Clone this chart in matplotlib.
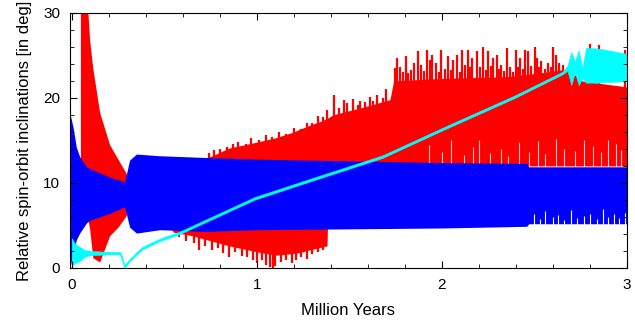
import numpy as np
import matplotlib
matplotlib.use("Agg")
import matplotlib.pyplot as plt
from matplotlib.ticker import MultipleLocator

plt.rcParams['font.family'] = ['Liberation Sans', 'DejaVu Sans']

# red band (envelopes, deg vs Myr)
red_x = [0.047, 0.085, 0.097, 0.114, 0.151, 0.205, 0.25, 0.29, 0.30, 0.50, 0.55, 0.65, 0.75,
         0.85, 1.0, 1.1, 1.2, 1.23, 1.30, 1.34, 1.38, 1.39, 1.41, 1.59, 1.72, 1.74, 2.0,
         2.35, 2.55, 2.68, 2.76, 3.0]
red_up = [31, 31, 26.8, 23.5, 18.3, 14.5, 12.8, 11.3, 10.8, 12.0, 12.2, 12.6, 13.1,
          14.1, 14.8, 15.3, 16.0, 16.3, 16.9, 17.2, 17.6, 17.7, 18.0, 19.0, 19.8, 22.0, 22.3,
          22.5, 23.0, 23.4, 22.0, 21.3]
red_lo = [8.0, 6.0, 4.6, 1.2, 0.7, 3.8, 4.8, 6.0, 6.5, 6.0, 4.2, 3.8, 3.2,
          2.6, 1.9, 1.5, 1.7, 1.8, 2.2, 2.4, 2.6, 12.0, 12.0, 12.0, 12.0, 12.0, 12.0,
          12.0, 12.0, 12.0, 12.0, 12.0]

# red spikes along the top
red_spk_x = [0.74, 0.77, 0.80, 0.84, 0.87, 0.90, 0.94, 0.97, 1.01, 1.05, 1.08, 1.12, 1.16,
             1.20, 1.24, 1.27, 1.30, 1.33, 1.36, 1.38, 1.42, 1.445, 1.47, 1.49, 1.52, 1.545,
             1.56, 1.585, 1.61, 1.63, 1.65, 1.68, 1.70,
             1.746, 1.759, 1.773, 1.79, 1.805, 1.82, 1.836, 1.85, 1.872, 1.89, 1.905, 1.923,
             1.935, 1.95, 1.971, 1.985, 1.998, 2.015, 2.034, 2.048, 2.061, 2.083, 2.098,
             2.112, 2.124, 2.142, 2.155, 2.166, 2.188, 2.205, 2.223, 2.237, 2.25, 2.265,
             2.277, 2.299, 2.31, 2.322, 2.338, 2.353, 2.37, 2.385, 2.40, 2.412, 2.425, 2.437,
             2.449, 2.467, 2.485, 2.503, 2.515, 2.527, 2.539, 2.557, 2.575, 2.59, 2.602,
             2.616, 2.634, 2.656, 2.80, 2.85, 2.99]
red_spk_top = [13.5, 13.9, 14.0, 14.2, 14.6, 14.8, 14.6, 15.3, 15.0, 15.6, 15.4, 16.0, 15.8,
               16.5, 16.4, 17.0, 17.1, 17.9, 17.8, 18.6, 20.4, 18.8, 19.8, 19.4, 19.9, 19.2,
               19.6, 19.5, 20.1, 19.7, 20.4, 20.0, 21.0,
               23.5, 24.7, 23.7, 23.0, 24.9, 22.9, 23.3, 24.1, 25.5, 23.9, 23.2, 25.7,
               24.5, 25.1, 24.1, 23.1, 25.7, 23.4, 24.9, 23.3, 24.5, 25.1, 23.0,
               25.6, 23.9, 25.7, 23.6, 24.7, 25.5, 23.7, 26.0, 23.3, 25.5, 23.8,
               24.7, 25.1, 23.4, 23.9, 23.2, 25.9, 23.7, 23.1, 25.6, 23.6, 24.7, 23.4,
               25.6, 25.5, 23.8, 26.0, 24.7, 23.6, 24.3, 23.4, 24.1, 23.6, 26.0,
               25.1, 24.1, 23.9, 26.3, 26.2, 25.6]

# red spikes reaching down below the blue band
red_dn_x = [0.58, 0.62, 0.66, 0.69, 0.72, 0.76, 0.79, 0.82, 0.85, 0.88, 0.92, 0.95, 0.98,
            1.0, 1.03, 1.05, 1.07, 1.09, 1.1, 1.13, 1.16, 1.19, 1.21, 1.24, 1.27, 1.3,
            1.33, 1.36]
red_dn_bot = [3.6, 3.2, 2.9, 2.1, 2.6, 2.1, 2.4, 1.8, 1.3, 1.9, 1.4, 1.3, 0.9,
              0.6, 0.9, 0.3, 0.1, 0.0, 0.2, 0.7, 0.9, 0.6, 0.9, 1.3, 1.1, 1.6,
              1.9, 2.1]

# white gaps at the bottom of the red band
red_gap_x = [1.93, 2.0, 2.05, 2.12, 2.17, 2.2, 2.26, 2.32, 2.36, 2.42, 2.47, 2.52, 2.56,
             2.62, 2.66, 2.72, 2.77, 2.82, 2.86, 2.9, 2.94, 2.97]
red_gap_top = [14.5, 13.6, 15.1, 13.3, 14.2, 15.0, 13.5, 14.0, 13.2, 14.8, 13.6, 14.9, 13.4,
               15.2, 14.0, 13.8, 15.0, 14.3, 13.6, 15.1, 14.6, 13.9]

# blue band
blue_x = [-0.01, 0.007, 0.025, 0.043, 0.08, 0.097, 0.205, 0.286, 0.313, 0.35, 0.476, 0.72,
          1.0, 1.5, 2.0, 2.46, 2.47, 3.0]
blue_up = [18.2, 16.6, 14.2, 13.1, 11.9, 11.7, 10.7, 10.1, 12.7, 13.4, 13.2, 13.0,
           12.8, 12.6, 12.4, 12.3, 11.9, 11.9]
blue_lo = [0.0, 1.7, 3.3, 4.1, 5.3, 5.6, 6.4, 7.2, 4.8, 4.1, 4.5, 4.3,
           4.5, 4.6, 4.7, 4.9, 5.2, 5.2]

# white gaps at the bottom of the blue band
blue_gap_x = [2.5, 2.53, 2.56, 2.6, 2.63, 2.66, 2.7, 2.73, 2.77, 2.8, 2.84, 2.87, 2.9,
              2.93, 2.96, 2.99]
blue_gap_top = [6.3, 5.8, 6.7, 6.0, 6.2, 5.7, 6.8, 5.9, 6.1, 6.4, 5.8, 6.9, 6.0, 6.3, 5.9, 6.5]

# cyan curve
cyan_x = [0.0, 0.005, 0.02, 0.043, 0.07, 0.1, 0.2, 0.26, 0.27, 0.285, 0.313, 0.35, 0.38,
          0.476, 0.58, 0.73, 0.99, 1.34, 1.68, 2.03, 2.39, 2.65, 2.68, 2.70, 2.72, 2.74,
          2.76, 2.78, 2.85, 3.0]
cyan_up = [3.5, 3.3, 2.8, 2.5, 2.1, 2.0, 1.9, 1.9, 1.5, 0.35, 1.05, 1.85, 2.45,
           3.45, 4.25, 5.75, 8.35, 10.85, 13.25, 16.75, 20.25, 23.05, 23.8, 25.4, 24.3, 25.6,
           23.5, 25.9, 25.8, 25.2]
cyan_lo = [0.0, 0.3, 0.6, 0.8, 1.3, 1.5, 1.6, 1.6, 1.0, 0.0, 0.75, 1.55, 2.15,
           3.15, 3.95, 5.45, 8.05, 10.55, 12.95, 16.45, 19.95, 22.75, 23.2, 21.5, 23.0, 21.5,
           22.3, 21.8, 21.8, 22.0]

fig = plt.figure(figsize=(6.35, 3.24), dpi=100)
ax = fig.add_axes([0.110, 0.173, 0.877, 0.787])

ax.fill_between(red_x, red_lo, red_up, color='#ff0000', lw=0, zorder=1.0)
ax.vlines(red_spk_x, 12.5, red_spk_top, color='#ff0000', lw=1.6, zorder=1.1)
ax.vlines(red_dn_x, red_dn_bot, 5, color='#ff0000', lw=1.6, zorder=1.1)
ax.vlines(red_gap_x, 12, red_gap_top, color='white', lw=0.8, alpha=0.8, zorder=1.2)
ax.fill_between(blue_x, blue_lo, blue_up, color='#0000ff', lw=0, zorder=1.3)
ax.vlines(blue_gap_x, 4.9, blue_gap_top, color='white', lw=0.8, zorder=1.4)
ax.fill_between(cyan_x, cyan_lo, cyan_up, color='#00ffff', lw=0.4, edgecolor='#00ffff',
                zorder=1.5)

ax.set_xlim(-0.01, 3)
ax.set_ylim(0, 30)
ax.xaxis.set_major_locator(MultipleLocator(1))
ax.xaxis.set_minor_locator(MultipleLocator(0.2))
ax.yaxis.set_major_locator(MultipleLocator(10))
ax.yaxis.set_minor_locator(MultipleLocator(2))
ax.tick_params(which='both', direction='in', top=True, right=True, labelsize=11)
ax.tick_params(which='major', length=5, pad=7)
ax.tick_params(which='minor', length=3)
ax.set_xlabel("Million Years", fontsize=12, labelpad=8)
ax.set_ylabel("Relative spin-orbit inclinations [in deg]", fontsize=12, labelpad=8)

fig.savefig("out.png", dpi=100)
